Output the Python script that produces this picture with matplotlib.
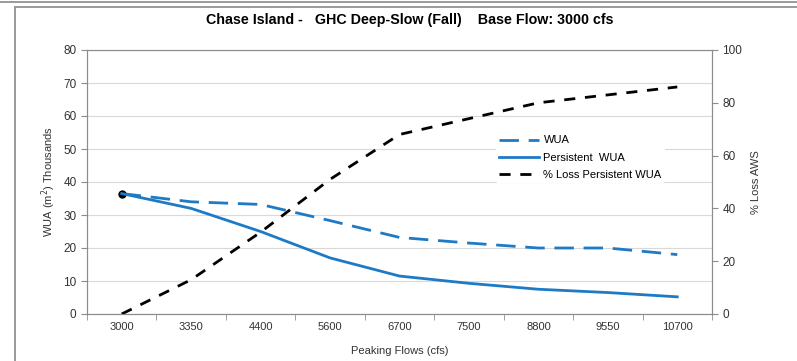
import numpy as np
import matplotlib
matplotlib.use('Agg')
import matplotlib.pyplot as plt
from matplotlib.lines import Line2D

plt.rcParams['font.family'] = ['Liberation Sans', 'DejaVu Sans']

# 数据
flows = ['3000', '3350', '4400', '5600', '6700', '7500', '8800', '9550', '10700']
wua = [36.5, 34.0, 33.2, 28.3, 23.2, 21.5, 20.0, 20.0, 18.0]
persistentWua = [36.5, 32.0, 25.0, 17.0, 11.5, 9.3, 7.5, 6.5, 5.2]
pctLoss = [0, 13, 31, 51, 68, 74, 80, 83, 86]

blue = '#1f7ac6'
grey = '#8c8c8c'
W, H = 797, 361


def main():
    fig = plt.figure(figsize=(W / 100, H / 100), dpi=100)
    # 外框 (只有上边和左边可见)
    frameLines = [
        ((0, 1), (1 - 1.5 / H, 1 - 1.5 / H)),
        ((15 / W, 1), (1 - 6.5 / H, 1 - 6.5 / H)),
        ((15 / W, 15 / W), (0, 1 - 6.5 / H)),
    ]
    for xs, ys in frameLines:
        fig.add_artist(Line2D(xs, ys, transform=fig.transFigure, color='#9a9a9a', linewidth=1.4))

    ax = fig.add_axes([87 / W, 1 - 314 / H, 625 / W, 264 / H])
    x = np.arange(len(flows))

    ax.plot(x, wua, color=blue, linewidth=2, dashes=(7, 3.5), label='WUA',
            marker='o', markevery=[0], markersize=5, markerfacecolor='black', markeredgecolor='black')
    ax.plot(x, persistentWua, color=blue, linewidth=2, label='Persistent  WUA')

    ax2 = ax.twinx()
    ax2.plot(x, pctLoss, color='black', linewidth=2, dashes=(4, 3.5), label='% Loss Persistent WUA')

    ax.set_xlim(-0.5, len(flows) - 0.5)
    ax.set_ylim(0, 80)
    ax.set_yticks(np.arange(0, 81, 10))
    ax2.set_ylim(0, 100)
    ax2.set_yticks(np.arange(0, 101, 20))
    ax.grid(axis='y', color='#d9d9d9', linewidth=0.8)
    ax.set_axisbelow(True)

    ax.set_xticks(x)
    ax.set_xticklabels(flows)
    ax.set_xticks(np.arange(-0.5, len(flows), 1), minor=True)
    ax.tick_params(axis='x', which='major', length=0, labelsize=8, colors='#333333', pad=6)
    ax.tick_params(axis='x', which='minor', length=4, color=grey)
    ax.tick_params(axis='y', length=4, color=grey, labelsize=8.5, labelcolor='#333333')
    ax2.tick_params(axis='y', length=4, color=grey, labelsize=8.5, labelcolor='#333333')

    for a in (ax, ax2):
        for s in a.spines.values():
            s.set_color(grey)

    ax.set_xlabel('Peaking Flows (cfs)', fontsize=8, color='#333333', labelpad=10)
    ax.set_ylabel('WUA (m$^2$) Thousands', fontsize=8, color='#333333', labelpad=4)
    ax2.set_ylabel('% Loss AWS', fontsize=8, color='#333333', labelpad=6)

    fig.text(0.514, 1 - 20 / H, 'Chase Island -   GHC Deep-Slow (Fall)    Base Flow: 3000 cfs',
             ha='center', va='center', fontsize=10.3, fontweight='bold')

    h1, l1 = ax.get_legend_handles_labels()
    h2, l2 = ax2.get_legend_handles_labels()
    leg = ax2.legend(h1 + h2, l1 + l2, loc='upper left', bbox_to_anchor=(0.645, 0.71), frameon=True,
                     fontsize=8, handlelength=3.6, handletextpad=0.4, labelspacing=0.65, borderpad=0.3)
    leg.get_frame().set_edgecolor('none')
    leg.get_frame().set_facecolor('white')
    leg.get_frame().set_alpha(1)
    # 图例里的点不要
    leg.legend_handles[0].set_marker('')

    fig.savefig('out.png', dpi=100)


if __name__ == "__main__":
    main()
